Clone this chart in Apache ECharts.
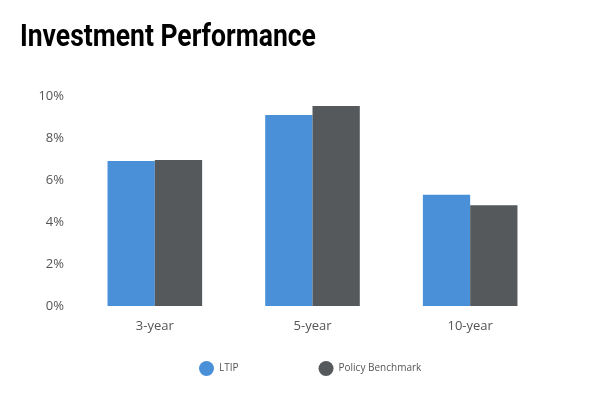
<!DOCTYPE html>
<html><head><meta charset="utf-8">
<script src="https://cdn.jsdelivr.net/npm/echarts@6/dist/echarts.min.js"></script>
<style>html,body{margin:0;padding:0;background:#fff}#c{width:600px;height:400px}</style>
</head><body><div id="c"></div>
<script>
const categories = ['3-year', '5-year', '10-year'];
const ltip = [6.9, 9.1, 5.3];
const benchmark = [6.95, 9.52, 4.8];
const seriesNames = ['LTIP', 'Policy Benchmark'];
const titleText = 'Investment Performance';

const chart = echarts.init(document.getElementById('c'));
chart.setOption({
  animation: false,
  graphic: [{
    type: 'text', left: 20, top: 23, scaleX: 0.855,
    style: { text: titleText, fill: '#000', font: 'bold 31px Roboto, "Liberation Sans", sans-serif' }
  }],
  legend: {
    bottom: 19, left: 194,
    icon: 'circle', itemWidth: 15, itemHeight: 15, itemGap: 80,
    textStyle: { fontFamily: '"Open Sans", sans-serif', fontSize: 10, color: '#555' },
    data: seriesNames
  },
  grid: { left: 76, width: 473, top: 96, height: 210 },
  xAxis: {
    type: 'category', data: categories,
    axisLine: { show: false }, axisTick: { show: false },
    axisLabel: { fontFamily: '"Open Sans", sans-serif', fontSize: 13, color: '#555', margin: 14 }
  },
  yAxis: {
    type: 'value', min: 0, max: 10, interval: 2,
    splitLine: { show: false }, axisLine: { show: false }, axisTick: { show: false },
    axisLabel: { formatter: '{value}%', fontFamily: '"Open Sans", sans-serif', fontSize: 13, color: '#555', margin: 12 }
  },
  series: [
    { name: seriesNames[0], type: 'bar', data: ltip, itemStyle: { color: '#4a90d9' }, barGap: '0%', barCategoryGap: '40%' },
    { name: seriesNames[1], type: 'bar', data: benchmark, itemStyle: { color: '#55595c' }, barGap: '0%', barCategoryGap: '40%' }
  ]
});
</script></body></html>
